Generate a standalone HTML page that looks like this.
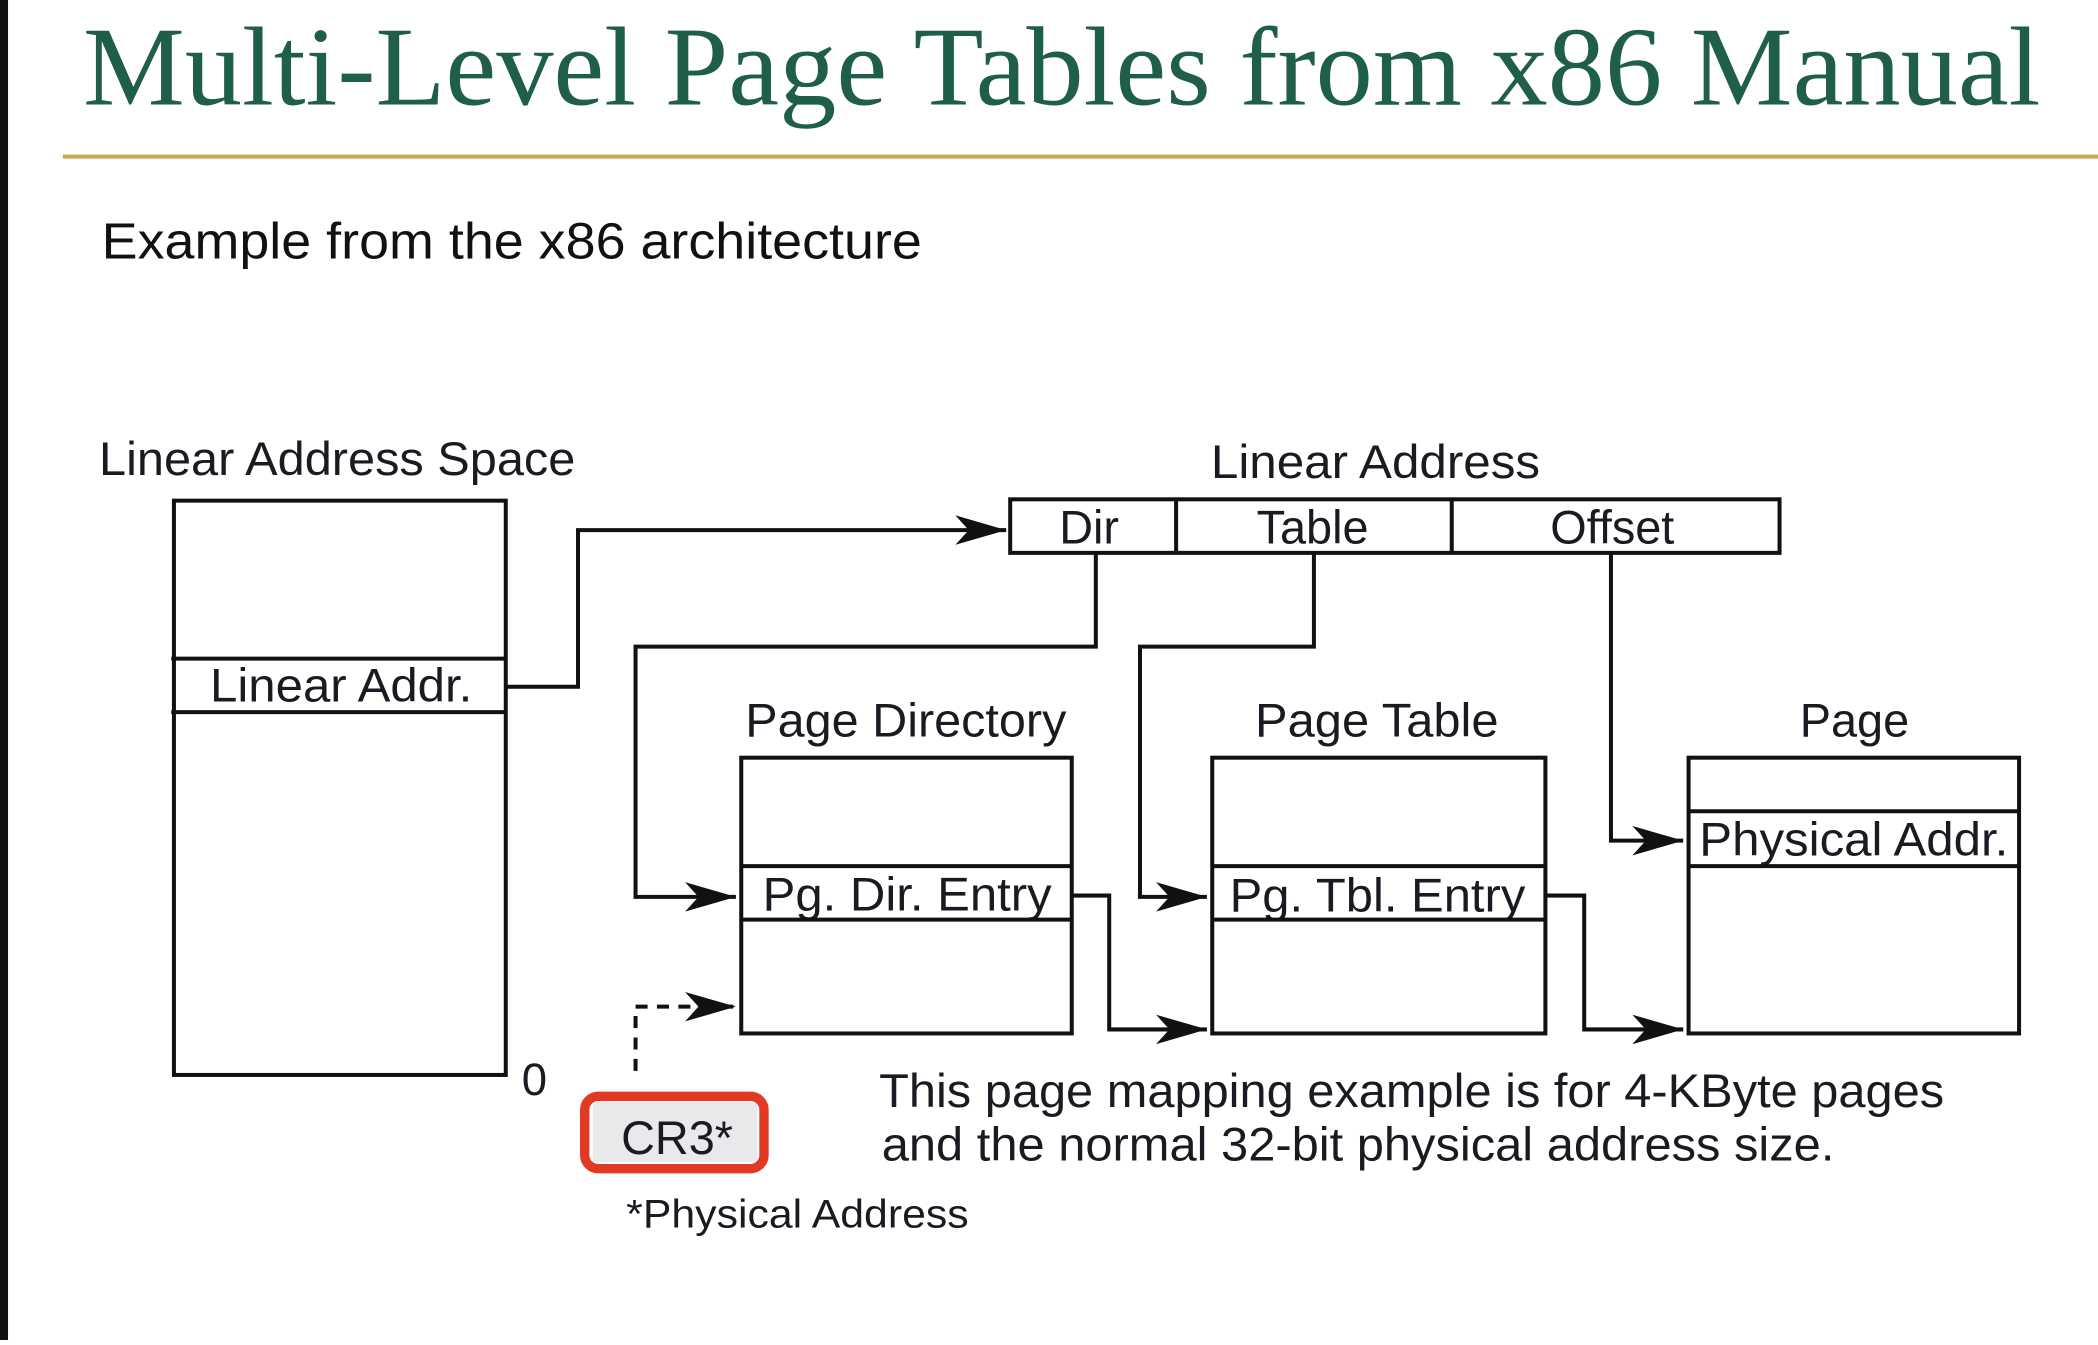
<!DOCTYPE html>
<html><head><style>html,body{margin:0;padding:0;background:#fff;overflow:hidden}</style></head>
<body>
<svg width="2098" height="1340" viewBox="0 0 1568 1001" preserveAspectRatio="none" xmlns="http://www.w3.org/2000/svg">
<defs>
<marker id="a" markerWidth="40" markerHeight="26" refX="38" refY="13" orient="auto" markerUnits="userSpaceOnUse">
<path d="M0,2 L38,13 L0,24 L10,13 Z" fill="#111"/>
</marker>
</defs>
<rect width="1568" height="1001" fill="#fff"/>
<rect x="0" y="0" width="6" height="1001" fill="#111"/>
<text x="62" y="78" font-family="Liberation Serif, serif" font-size="84" fill="#1f5e48" textLength="1463" lengthAdjust="spacingAndGlyphs">Multi-Level Page Tables from x86 Manual</text>
<line x1="47" y1="117" x2="1568" y2="117" stroke="#c7a94e" stroke-width="3"/>
<g font-family="Liberation Sans, sans-serif" fill="#1a1a22">
<text x="76" y="193" font-size="38" textLength="613" lengthAdjust="spacingAndGlyphs" fill="#111">Example from the x86 architecture</text>
<text x="74" y="355" font-size="35" textLength="356" lengthAdjust="spacingAndGlyphs">Linear Address Space</text>
<text x="905" y="357" font-size="35" textLength="246" lengthAdjust="spacingAndGlyphs">Linear Address</text>
<text x="157" y="524" font-size="35" textLength="196" lengthAdjust="spacingAndGlyphs">Linear Addr.</text>
<text x="390" y="818" font-size="34">0</text>
<text x="814" y="406" font-size="35" text-anchor="middle">Dir</text>
<text x="981" y="406" font-size="35" text-anchor="middle">Table</text>
<text x="1205" y="406" font-size="35" text-anchor="middle">Offset</text>
<text x="557" y="550" font-size="35" textLength="240" lengthAdjust="spacingAndGlyphs">Page Directory</text>
<text x="938" y="550" font-size="35" textLength="182" lengthAdjust="spacingAndGlyphs">Page Table</text>
<text x="1386" y="550" font-size="35" text-anchor="middle">Page</text>
<text x="570" y="680" font-size="35" textLength="216" lengthAdjust="spacingAndGlyphs">Pg. Dir. Entry</text>
<text x="919" y="681" font-size="35" textLength="221" lengthAdjust="spacingAndGlyphs">Pg. Tbl. Entry</text>
<text x="1270" y="639" font-size="35" textLength="231" lengthAdjust="spacingAndGlyphs">Physical Addr.</text>
<text x="657" y="827" font-size="35" textLength="796" lengthAdjust="spacingAndGlyphs">This page mapping example is for 4-KByte pages</text>
<text x="659" y="867" font-size="35" textLength="712" lengthAdjust="spacingAndGlyphs">and the normal 32-bit physical address size.</text>
<text x="468" y="917" font-size="30" textLength="256" lengthAdjust="spacingAndGlyphs">*Physical Address</text>
</g>
<g fill="none" stroke="#111" stroke-width="3">
<rect x="130" y="374" width="248" height="429"/>
<line x1="128" y1="492" x2="378" y2="492"/>
<line x1="128" y1="532" x2="378" y2="532"/>
<rect x="755" y="373" width="575" height="40"/>
<line x1="879" y1="373" x2="879" y2="413"/>
<line x1="1085" y1="373" x2="1085" y2="413"/>
<rect x="554" y="566" width="247" height="206"/>
<line x1="554" y1="647" x2="801" y2="647"/>
<line x1="554" y1="687" x2="801" y2="687"/>
<rect x="906" y="566" width="249" height="206"/>
<line x1="906" y1="647" x2="1155" y2="647"/>
<line x1="906" y1="687" x2="1155" y2="687"/>
<rect x="1262" y="566" width="247" height="206"/>
<line x1="1262" y1="606" x2="1509" y2="606"/>
<line x1="1262" y1="647" x2="1509" y2="647"/>
<polyline points="378,513 432,513 432,396 752,396" marker-end="url(#a)"/>
<polyline points="819,413 819,483 475,483 475,670 550,670" marker-end="url(#a)"/>
<polyline points="982,413 982,483 852,483 852,670 902,670" marker-end="url(#a)"/>
<polyline points="1204,413 1204,628 1258,628" marker-end="url(#a)"/>
<polyline points="801,669 829,669 829,769 902,769" marker-end="url(#a)"/>
<polyline points="1155,669 1184,669 1184,769 1258,769" marker-end="url(#a)"/>
<polyline points="475,800 475,752 550,752" stroke-dasharray="9,7" marker-end="url(#a)"/>
</g>
<rect x="443" y="823" width="123" height="45" fill="#e9e9ec"/>
<rect x="437" y="819" width="134" height="54" rx="10" fill="none" stroke="#e23a22" stroke-width="7"/>
<text x="506" y="862" font-family="Liberation Sans, sans-serif" font-size="35" text-anchor="middle" fill="#1a1a22">CR3*</text>
</svg>
</body></html>
